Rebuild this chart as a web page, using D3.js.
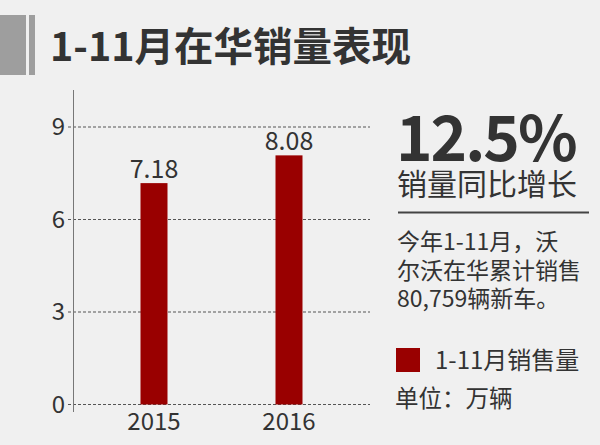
<!DOCTYPE html>
<meta charset="utf-8">
<style>
body { margin:0; background:#f0f0f0; }
svg { display:block; font-family:"Noto Sans CJK SC", "Noto Sans", sans-serif; }
</style>
<body>
<div id="chart"></div>
<script src="https://cdnjs.cloudflare.com/ajax/libs/d3/7.8.5/d3.min.js"></script>
<script>
// 数据
var years = ["2015", "2016"];
var sales = [7.18, 8.08];
var yTicks = [0, 3, 6, 9];
var title = "1-11月在华销量表现";
var growth = "12.5%";
var growthLabel = "销量同比增长";
var noteLines = ["今年1-11月，沃", "尔沃在华累计销售", "80,759辆新车。"];
var legendLabel = "1-11月销售量";
var unitLabel = "单位：万辆";

var width = 600, height = 445;
var svg = d3.select("#chart").append("svg").attr("width", width).attr("height", height);
svg.append("rect").attr("width", width).attr("height", height).attr("fill", "#f0f0f0");

// 标题
svg.append("rect").attr("x", 0).attr("y", 15).attr("width", 26).attr("height", 60).attr("fill", "#9e9e9e");
svg.append("rect").attr("x", 29).attr("y", 15).attr("width", 6).attr("height", 60).attr("fill", "#9e9e9e");
svg.append("text").attr("x", 50).attr("y", 61)
  .attr("font-size", 39.5).attr("font-weight", "bold").attr("fill", "#333")
  .text(title);

// 比例尺
var x = d3.scaleBand().domain(years).range([73, 370]).paddingInner(0.8).paddingOuter(0.5);
var y = d3.scaleLinear().domain([0, 9]).range([404.5, 127]);

// 网格线
svg.append("g").selectAll("line").data(yTicks).enter().append("line")
  .attr("x1", 68).attr("x2", 370)
  .attr("y1", function(d) { return y(d); }).attr("y2", function(d) { return y(d); })
  .attr("stroke", "#555").attr("stroke-dasharray", "3,2").attr("stroke-width", 1);

// y轴
var yAxis = svg.append("g").attr("transform", "translate(73,0)")
  .call(d3.axisLeft(y).tickValues(yTicks).tickSize(0).tickPadding(8));
yAxis.select(".domain").remove();
yAxis.selectAll("text").attr("font-size", 24).attr("fill", "#333").attr("font-family", "Noto Sans CJK SC");
svg.append("line").attr("x1", 73.5).attr("x2", 73.5).attr("y1", 90).attr("y2", 412)
  .attr("stroke", "#777").attr("stroke-width", 1);

// 柱
svg.append("g").selectAll("rect").data(sales).enter().append("rect")
  .attr("x", function(d, i) { return x(years[i]); })
  .attr("y", function(d) { return y(d); })
  .attr("width", x.bandwidth())
  .attr("height", function(d) { return y(0) - y(d); })
  .attr("fill", "#990000");

// 数值标签
svg.append("g").selectAll("text").data(sales).enter().append("text")
  .attr("x", function(d, i) { return x(years[i]) + x.bandwidth() / 2; })
  .attr("y", function(d) { return y(d) - 5; })
  .attr("text-anchor", "middle").attr("font-size", 25).attr("fill", "#333")
  .text(function(d) { return d.toFixed(2); });

// x轴标签
var xAxis = svg.append("g").attr("transform", "translate(0,404.5)")
  .call(d3.axisBottom(x).tickSize(0).tickPadding(8));
xAxis.select(".domain").remove();
xAxis.selectAll("text").attr("font-size", 24).attr("fill", "#333").attr("font-family", "Noto Sans CJK SC");

// 右侧说明
svg.append("text").attr("x", 396).attr("y", 161).attr("font-size", 62).attr("font-weight", "bold")
  .attr("letter-spacing", -2).attr("fill", "#333").text(growth);
svg.append("text").attr("x", 397).attr("y", 195).attr("font-size", 30).attr("fill", "#333").text(growthLabel);
svg.append("line").attr("x1", 398).attr("x2", 589).attr("y1", 212.5).attr("y2", 212.5)
  .attr("stroke", "#444").attr("stroke-width", 2);
// 说明文字放在一个text里，逐行tspan
svg.append("text").attr("x", 397).attr("y", 250).attr("font-size", 23).attr("fill", "#333")
  .selectAll("tspan").data(noteLines).enter().append("tspan")
  .attr("x", 397).attr("dy", function(d, i) { return i == 0 ? 0 : 28.5; })
  .text(function(d) { return d; });

// 图例
svg.append("rect").attr("x", 396).attr("y", 348).attr("width", 24).attr("height", 24).attr("fill", "#990000");
svg.append("text").attr("x", 435).attr("y", 369).attr("font-size", 24).attr("fill", "#333").text(legendLabel);
svg.append("text").attr("x", 395).attr("y", 407).attr("font-size", 23.5).attr("fill", "#333").text(unitLabel);
</script>
</body>
